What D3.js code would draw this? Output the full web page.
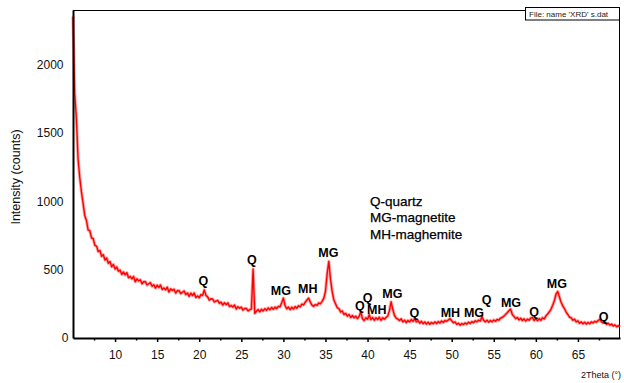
<!DOCTYPE html>
<html>
<head>
<meta charset="utf-8">
<script src="https://cdn.jsdelivr.net/npm/d3@7"></script>
<style>
  body { margin: 0; background: #fff; }
  svg { display: block; font-family: "Liberation Sans", Arial, sans-serif; }
</style>
</head>
<body>
<svg id="chart" width="624" height="383"></svg>
<script>
// XRD scan in 0.2 degree steps (2Theta), one array per region
const scanStep = 0.2;
const segmentStarts = [5.0, 10.2, 20.2, 26.2, 35.2, 44.2, 56.2];

const counts05to10 = [2350, 1790, 1610, 1310, 1175, 1070, 985, 895, 860, 790,
  785, 732, 728, 678, 672, 633, 640, 598, 610, 571,
  585, 547, 559, 522, 538, 505];
const counts10to20 = [520, 489, 496, 465, 483, 462, 478, 441, 450, 433,
  450, 412, 433, 418, 426, 397, 412, 412, 388, 397,
  405, 379, 390, 365, 387, 370, 388, 355, 366, 353,
  372, 336, 360, 347, 357, 329, 346, 347, 325, 335,
  344, 318, 330, 305, 328, 311, 329, 296, 308, 295];
const counts20to26 = [317, 312, 352, 312, 301, 277, 287, 285, 264, 270,
  275, 254, 262, 241, 258, 244, 257, 230, 238, 226,
  241, 212, 229, 218, 226, 204, 216, 217, 198, 207];
const counts26to35 = [212, 505, 180, 196, 208, 192, 210, 198, 214, 203,
  220, 206, 224, 210, 226, 215, 232, 228, 258, 292,
  238, 214, 226, 208, 225, 212, 230, 218, 236, 228,
  248, 242, 262, 278, 292, 262, 240, 232, 245, 238,
  256, 250, 268, 290, 340];
const counts35to44 = [470, 560, 430, 340, 278, 250, 222, 215, 190, 198,
  172, 180, 160, 172, 150, 165, 148, 160, 142, 158,
  192, 140, 128, 148, 138, 170, 135, 150, 130, 148,
  135, 152, 130, 148, 138, 150, 160, 200, 265, 210,
  165, 145, 138, 128, 140];
const counts44to56 = [118, 130, 112, 128, 118, 135, 122, 140, 118, 128,
  108, 122, 105, 118, 102, 115, 100, 114, 104, 118,
  106, 120, 110, 124, 114, 128, 122, 132, 142, 126,
  112, 118, 100, 108, 94, 106, 98, 110, 102, 116,
  106, 120, 112, 126, 118, 130, 125, 158, 128, 118,
  130, 116, 128, 118, 132, 122, 136, 130, 146, 150];
const counts56to70 = [160, 172, 185, 200, 212, 172, 158, 142, 150, 132,
  145, 128, 140, 124, 138, 130, 146, 150, 128, 140,
  126, 142, 130, 148, 140, 162, 175, 192, 210, 240,
  272, 322, 340, 300, 262, 235, 215, 190, 172, 152,
  148, 130, 138, 118, 126, 108, 118, 104, 116, 102,
  114, 104, 118, 110, 122, 116, 128, 136, 118, 110,
  118, 100, 108, 94, 102, 88, 96, 82, 90, 80];

const segments = [counts05to10, counts10to20, counts20to26, counts26to35,
  counts35to44, counts44to56, counts56to70];

// phase labels: text, angle, intensity of the text baseline
const peakNames = ["Q", "Q", "MG", "MH", "MG", "Q", "Q", "MH", "MG",
  "Q", "MH", "MG", "Q", "MG", "Q", "MG", "Q"];
const peakAngles = [20.5, 26.25, 29.7, 32.9, 35.35, 39.1, 40.0, 41.1, 42.95,
  45.55, 49.85, 52.65, 54.15, 57.05, 59.8, 62.5, 68.05];
const peakLabelCounts = [388, 541, 315, 326, 593, 205, 263, 172, 293,
  154, 154, 154, 249, 227, 161, 366, 124];

const legendLines = ["Q-quartz", "MG-magnetite", "MH-maghemite"];

const xTicks = [10, 15, 20, 25, 30, 35, 40, 45, 50, 55, 60, 65];
const xMinorTicks = [7.5, 12.5, 17.5, 22.5, 27.5, 32.5, 37.5, 42.5, 47.5, 52.5, 57.5, 62.5, 67.5];
const yTicks = [0, 500, 1000, 1500, 2000];

const svg = d3.select("#chart");

const x = d3.scaleLinear().domain([5, 70]).range([73, 620]);
const y = d3.scaleLinear().domain([0, 2400]).range([338, 10]);

const scan = [];
segments.forEach((arr, k) => {
  arr.forEach((c, i) => scan.push({ t: segmentStarts[k] + i * scanStep, c: c }));
});

// frame pieces (top and right) and the file box
svg.append("line")
  .attr("x1", 73).attr("x2", 525).attr("y1", 10.5).attr("y2", 10.5)
  .attr("stroke", "#000").attr("stroke-width", 1);
svg.append("line")
  .attr("x1", 619.5).attr("x2", 619.5).attr("y1", 20).attr("y2", 338)
  .attr("stroke", "#000").attr("stroke-width", 1);
svg.append("rect")
  .attr("x", 525.5).attr("y", 7.5).attr("width", 94).attr("height", 12.5)
  .attr("fill", "#fff").attr("stroke", "#000").attr("stroke-width", 1);
svg.append("text")
  .attr("x", 529).attr("y", 17)
  .attr("font-size", 8).attr("fill", "#222")
  .text("File: name 'XRD' s.dat");

// scan line: soft halo under a solid red trace
const line = d3.line().x(d => x(d.t)).y(d => y(d.c));
svg.append("path")
  .datum(scan)
  .attr("d", line)
  .attr("fill", "none")
  .attr("stroke", "#ff0000")
  .attr("stroke-opacity", 0.35)
  .attr("stroke-width", 3.2)
  .attr("stroke-linejoin", "round");
svg.append("path")
  .datum(scan)
  .attr("d", line)
  .attr("fill", "none")
  .attr("stroke", "#ff0000")
  .attr("stroke-width", 1.4)
  .attr("stroke-linejoin", "round");

// axes
const xAxis = svg.append("g")
  .attr("transform", "translate(0,338)")
  .call(d3.axisBottom(x).tickValues(xTicks).tickSize(4).tickSizeOuter(0).tickPadding(8.5));
xAxis.select(".domain").attr("stroke-width", 2);
xAxis.selectAll(".tick line").attr("stroke-width", 1.5);
xAxis.selectAll("text").attr("font-size", 12).attr("fill", "#111")
  .style("font-family", "'Liberation Sans', Arial, sans-serif");

const xMinor = svg.append("g")
  .attr("transform", "translate(0,338)")
  .call(d3.axisBottom(x).tickValues(xMinorTicks).tickSize(2.5).tickFormat(""));
xMinor.select(".domain").remove();
xMinor.selectAll(".tick line").attr("stroke-width", 1.5);

const yAxis = svg.append("g")
  .attr("transform", "translate(73,0)")
  .call(d3.axisLeft(y).tickValues(yTicks).tickFormat(d3.format("d"))
    .tickSize(0).tickSizeOuter(0).tickPadding(9.5));
yAxis.select(".domain").attr("stroke-width", 2);
yAxis.selectAll("text").attr("font-size", 12).attr("fill", "#111")
  .style("font-family", "'Liberation Sans', Arial, sans-serif")
  .attr("dx", d => d === 0 ? 5 : 0);

// axis titles
svg.append("text")
  .attr("transform", "translate(20,177) rotate(-90)")
  .attr("text-anchor", "middle")
  .attr("font-size", 12.5).attr("fill", "#111")
  .text("Intensity (counts)");
svg.append("text")
  .attr("x", 621).attr("y", 378)
  .attr("text-anchor", "end")
  .attr("font-size", 9).attr("fill", "#111")
  .text("2Theta (°)");

// phase labels
svg.append("g").selectAll("text")
  .data(peakNames)
  .join("text")
  .attr("x", (d, i) => x(peakAngles[i]))
  .attr("y", (d, i) => y(peakLabelCounts[i]))
  .attr("text-anchor", "middle")
  .attr("font-size", 12.5).attr("font-weight", "bold").attr("fill", "#000")
  .text(d => d);

// legend
svg.append("g").selectAll("text")
  .data(legendLines)
  .join("text")
  .attr("x", 370)
  .attr("y", (d, i) => 205.5 + i * 16.5)
  .attr("font-size", 13.5).attr("fill", "#000")
  .attr("stroke", "#000").attr("stroke-width", 0.25)
  .text(d => d);
</script>
</body>
</html>
